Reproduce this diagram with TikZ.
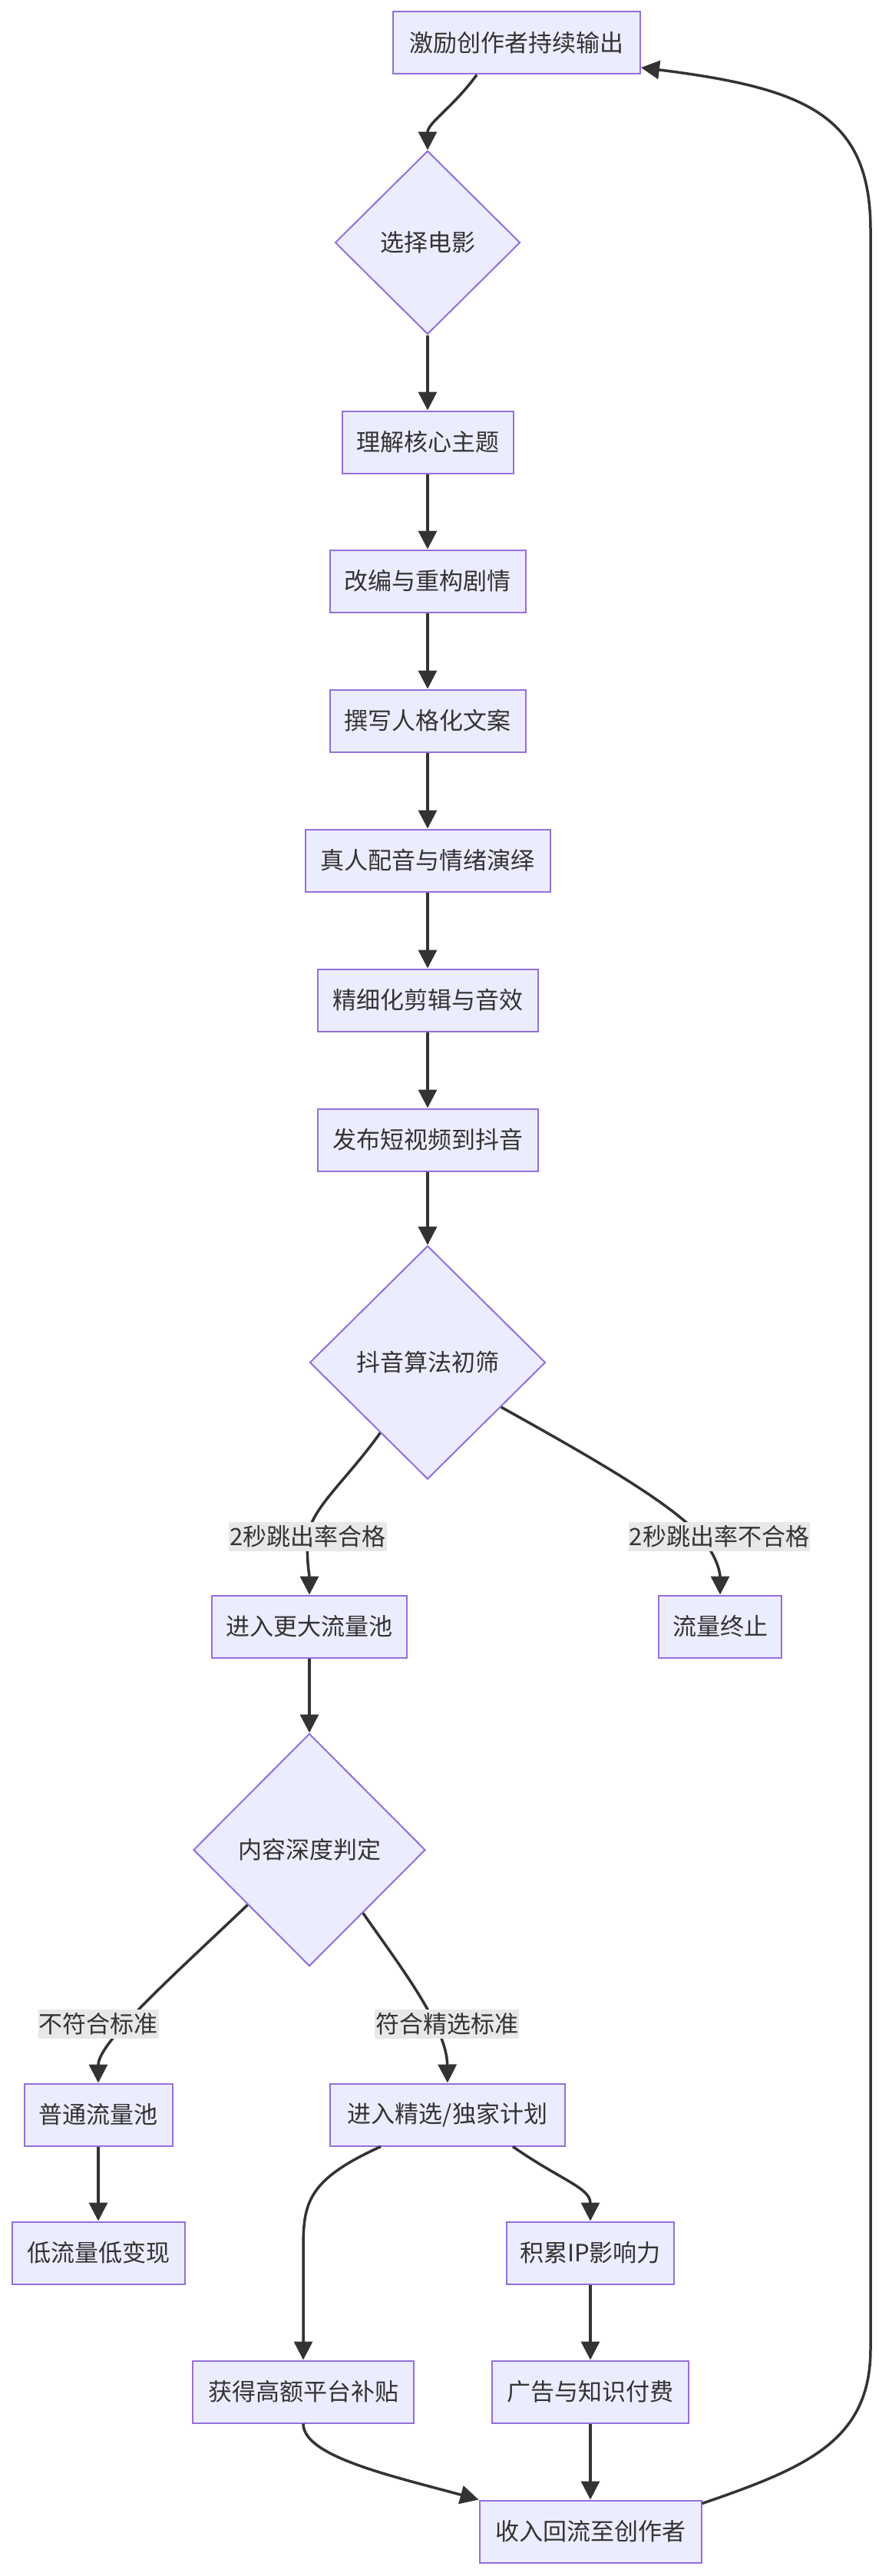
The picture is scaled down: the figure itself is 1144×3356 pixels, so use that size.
\documentclass[tikz,border=0pt]{standalone}
\usepackage{fontspec}
\setmainfont{Noto Sans CJK SC}
\usetikzlibrary{shapes.geometric,arrows.meta,calc}
\definecolor{nodefill}{HTML}{ECECFF}
\definecolor{nodeline}{HTML}{9370DB}
\definecolor{edgecol}{HTML}{333333}
\definecolor{lblfill}{HTML}{E8E8E8}
\tikzset{
  box/.style={draw=nodeline, fill=nodefill, line width=2pt, minimum height=81pt, inner sep=0pt, text=edgecol, font=\fontsize{31pt}{37pt}\selectfont},
  dia/.style={diamond, draw=nodeline, fill=nodefill, line width=2pt, inner sep=0pt, text=edgecol, font=\fontsize{31pt}{37pt}\selectfont},
  edge/.style={draw=edgecol, line width=3.5pt, -{Triangle[length=24pt,width=24pt]}},
  lbl/.style={fill=lblfill, text=edgecol, inner xsep=1pt, inner ysep=0pt, minimum height=38pt, font=\fontsize{31pt}{37pt}\selectfont}
}
\begin{document}
\begin{tikzpicture}[x=1pt,y=-1pt]
\fill[white] (0,0) rectangle (1144,3356);
\useasboundingbox (0,0) rectangle (1144,3356);
% nodes
\node[box, minimum width=322pt] (A) at (673,56) {激励创作者持续输出};
\node[dia, minimum width=241pt, minimum height=239pt] (B) at (557,316) {选择电影};
\node[box, minimum width=223pt] (C) at (557,576) {理解核心主题};
\node[box, minimum width=255pt] (D) at (557,757) {改编与重构剧情};
\node[box, minimum width=255pt] (E) at (557,939) {撰写人格化文案};
\node[box, minimum width=319pt] (F) at (557,1121) {真人配音与情绪演绎};
\node[box, minimum width=287pt] (G) at (557,1303) {精细化剪辑与音效};
\node[box, minimum width=287pt] (H) at (557,1485) {发布短视频到抖音};
\node[dia, minimum width=307pt, minimum height=304pt] (I) at (557,1775) {抖音算法初筛};
\node[box, minimum width=254pt] (J) at (403,2119) {进入更大流量池};
\node[box, minimum width=160pt] (K) at (938,2119) {流量终止};
\node[dia, minimum width=302pt, minimum height=303pt] (L) at (403,2410) {内容深度判定};
\node[box, minimum width=193pt] (M) at (128,2755) {普通流量池};
\node[box, minimum width=306pt] (N) at (583,2755) {进入精选/独家计划};
\node[box, minimum width=225pt] (O) at (128,2935) {低流量低变现};
\node[box, minimum width=218pt] (P) at (769,2935) {积累IP影响力};
\node[box, minimum width=288pt] (Q) at (395,3116) {获得高额平台补贴};
\node[box, minimum width=256pt] (R) at (769,3116) {广告与知识付费};
\node[box, minimum width=289pt] (S) at (769,3298) {收入回流至创作者};
% label positions
\coordinate (l1) at (401,2002);
\coordinate (l2) at (937,2002);
\coordinate (l3) at (128,2637);
\coordinate (l4) at (582,2637);
% edges
\draw[edge] ([xshift=-52pt]A.south) .. controls (590,140) and (557,160) .. (B.north);
\draw[edge] (B.south) -- (C.north);
\draw[edge] (C.south) -- (D.north);
\draw[edge] (D.south) -- (E.north);
\draw[edge] (E.south) -- (F.north);
\draw[edge] (F.south) -- (G.north);
\draw[edge] (G.south) -- (H.north);
\draw[edge] (H.south) -- (I.north);
\draw[edge] ($(I.west)!0.6!(I.south)$) .. controls (450,1930) and (405,1965) .. (l1) .. controls (399,2035) and (403,2050) .. (J.north);
\draw[edge] ($(I.east)!0.38!(I.south)$) .. controls (760,1893) and (880,1960) .. (915,2005) .. controls (935,2030) and (938,2050) .. (K.north);
\draw[edge] (J.south) -- (L.north);
\draw[edge] ($(L.west)!0.47!(L.south)$) .. controls (230,2570) and (128,2660) .. (M.north);
\draw[edge] ($(L.east)!0.54!(L.south)$) .. controls (520,2560) and (582,2640) .. (N.north);
\draw[edge] (M.south) -- (O.north);
\draw[edge] ([xshift=-87pt]N.south) .. controls (400,2840) and (395,2870) .. (395,2930) -- (Q.north);
\draw[edge] ([xshift=85pt]N.south) .. controls (730,2840) and (769,2850) .. (P.north);
\draw[edge] (P.south) -- (R.north);
\draw[edge] (R.south) -- (S.north);
\draw[edge] (Q.south) .. controls (395,3200) and (508,3225) .. (S.north west);
\draw[edge] ([yshift=-5pt]S.north east) .. controls (1050,3215) and (1134,3180) .. (1134,3060) -- (1134,300) .. controls (1134,150) and (1050,115) .. ([yshift=-32pt]A.east);
% edge labels
\node[lbl] (t1) at (l1) {2秒跳出率合格};
\node[lbl] (t2) at (l2) {2秒跳出率不合格};
\node[lbl] (t3) at (l3) {不符合标准};
\node[lbl] (t4) at (l4) {符合精选标准};
\end{tikzpicture}
\end{document}
